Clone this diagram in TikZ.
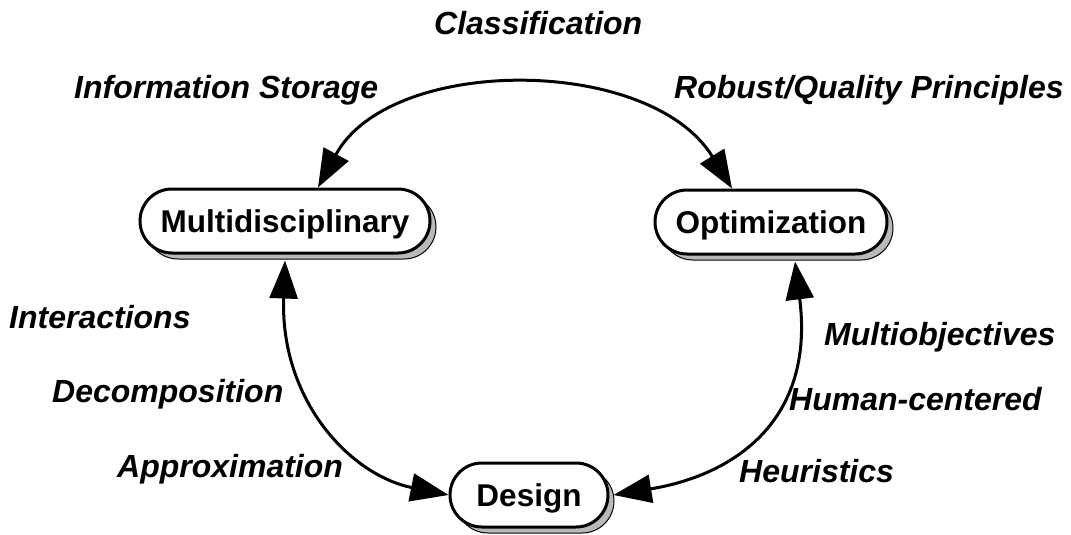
\documentclass[tikz,border=0pt]{standalone}
\usepackage{fontspec}
\setmainfont{Liberation Sans}
\usetikzlibrary{arrows.meta,shadows}
\begin{document}
\begin{tikzpicture}[x=1pt,y=-1pt,
  box/.style={draw=black, line width=3pt, fill=white, rounded corners=32pt, minimum height=64pt, inner xsep=0pt,
    font=\fontsize{31.5}{37}\selectfont\bfseries, text height=22pt, text depth=0pt,
    drop shadow={shadow xshift=6pt, shadow yshift=-6pt, fill=gray!55, draw=black, line width=1pt, opacity=1}},
  lab/.style={anchor=base west, inner sep=0pt, font=\fontsize{32}{38}\selectfont\bfseries\itshape},
  conn/.style={line width=3pt, {Triangle[length=38pt,width=28pt]}-{Triangle[length=38pt,width=28pt]}}
]
\useasboundingbox (0,0) rectangle (1071,535);
\node[box, minimum width=290pt] (multi) at (285,221) {Multidisciplinary};
\node[box, minimum width=232pt] (opt) at (771,222) {Optimization};
\node[box, minimum width=158pt] (des) at (529,495) {Design};

\draw[conn] ([xshift=33pt]multi.north) .. controls (390,55) and (650,55) .. ([xshift=-39pt]opt.north);
\draw[conn] ([yshift=-6pt]multi.south) .. controls (280,400) and (350,475) .. (des.west);
\draw[conn] ([xshift=24pt,yshift=-6pt]opt.south) .. controls (815,420) and (735,475) .. ([xshift=4pt]des.east);

\node[lab] (l1) at (434,35) {Classification};
\node[lab] (l2) at (74,98) {Information Storage};
\node[lab] (l3) at (674,98) {Robust/Quality Principles};
\node[lab] (l4) at (9,328) {Interactions};
\node[lab] (l5) at (52,402) {Decomposition};
\node[lab] (l6) at (117,477) {Approximation};
\node[lab] (l7) at (824,345) {Multiobjectives};
\node[lab] (l8) at (789,410) {Human-centered};
\node[lab] (l9) at (739,482) {Heuristics};
\end{tikzpicture}
\end{document}
